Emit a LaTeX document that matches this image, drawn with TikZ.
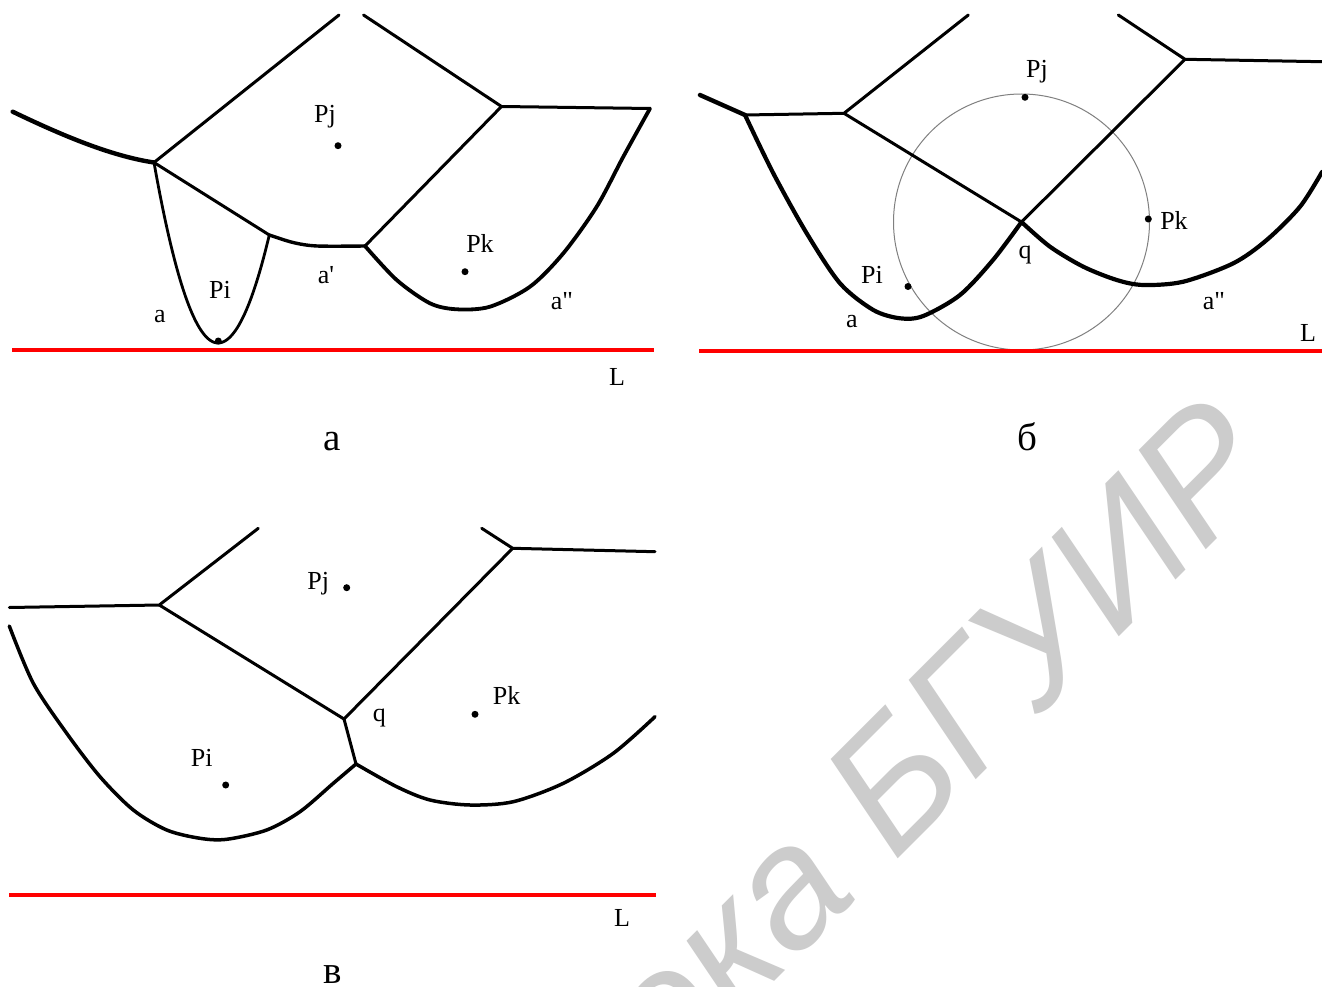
\documentclass[tikz,border=0pt]{standalone}
\usepackage{fontspec}
\newfontfamily\lab{Liberation Serif}
\newfontfamily\wm{Liberation Sans}
\begin{document}
\begin{tikzpicture}[x=1pt,y=-1pt,
  edge/.style={line width=3pt, line cap=round, line join=round},
  arc/.style={line width=3.8pt, line cap=round, line join=round},
  sweep/.style={line width=3.5pt, red},
  site/.style={circle, fill=black, inner sep=0pt, minimum size=7pt},
  lbl/.style={font=\lab\fontsize{26}{30}\selectfont, inner sep=0pt},
  panellbl/.style={font=\lab\fontsize{39}{42}\selectfont, inner sep=0pt, anchor=base},
  wmk/.style={font=\wm\itshape\fontsize{171}{171}\selectfont, text=black!20, inner sep=0pt, anchor=base west, rotate=45}]
\useasboundingbox (0,0) rectangle (1322,987);
\fill[white] (0,0) rectangle (1322,987);
\node[wmk] (wmark) at (894,862) {\llap{Библиотека }БГУИР};

% ---------------- panel a ----------------
\coordinate (aL0) at (12.7,111.7);
\coordinate (aV1) at (154,162.5);
\coordinate (aT1) at (339,15);
\coordinate (aT2) at (363.5,15);
\coordinate (aV2) at (501.5,106.5);
\coordinate (aE2) at (650,108.5);
\coordinate (aJ) at (269.3,235);
\coordinate (aV3) at (365,246);
\coordinate (aS0) at (12,350);
\coordinate (aS1) at (654,350);
\draw[arc, line width=4.4pt] (aL0) .. controls (60,134.4) and (110,155.9) .. (aV1);
\draw[edge] (aV1) -- (aT1);
\draw[edge] (aT2) -- (aV2) -- (aE2);
\draw[edge] (aV2) -- (aV3);
\draw[edge] (aV1) -- (aJ);
\draw[arc, line width=3.4pt] plot[smooth] coordinates {(aJ) (293,242.5) (317,246) (aV3)};
\draw[edge, line width=2.8pt] plot[domain=154:218,samples=40] (\x,{343-0.04407*(\x-218)^2})
   -- plot[domain=218:269.3,samples=30] (\x,{343-0.04104*(\x-218)^2});
\draw[arc] plot[smooth] coordinates {(aV3) (396.7,280) (430,303.3) (456.7,309.3) (490,306.7) (530,286.7) (563.3,253.3) (596.7,206.7) (623.3,156.7) (aE2)};
\draw[sweep] (aS0) -- (aS1);
\node[site] (aPj) at (338,145.7) {};
\node[site] (aPk) at (465,271.7) {};
\node[site] (aPi) at (218.3,341) {};
\node[lbl] (aPjl) at (325,117) {Pj};
\node[lbl] (aPkl) at (480,243) {Pk};
\node[lbl] (aPil) at (220,290) {Pi};
\node[lbl] (aal) at (160,317) {a};
\node[lbl] (aapl) at (326,275) {a'};
\node[lbl] (aappl) at (562,301) {a"};
\node[lbl] (aLl) at (617,377) {L};
\node[panellbl] (capa) at (332,450) {а};

% ---------------- panel b ----------------
\coordinate (bL0) at (700,95);
\coordinate (bV4) at (745,115);
\coordinate (bV5) at (844,113.3);
\coordinate (bT1) at (968.3,15);
\coordinate (bT2) at (1118.3,15);
\coordinate (bV6) at (1185,59.3);
\coordinate (bE6) at (1322,61.7);
\coordinate (bq) at (1021.5,222);
\coordinate (bE7) at (1322,172);
\coordinate (bS0) at (699,351);
\coordinate (bS1) at (1322,351);
\draw[gray, line width=1pt] (bq) circle[radius=128pt];
\draw[arc, line width=4.4pt] (bL0) -- (bV4);
\draw[edge] (bV4) -- (bV5) -- (bT1);
\draw[edge] (bT2) -- (bV6) -- (bE6);
\draw[edge] (bV5) -- (bq);
\draw[edge] (bV6) -- (bq);
\draw[arc, line width=4.2pt] plot[smooth] coordinates {(bq) (993,260) (960,295) (923.3,316) (900,318.3) (873.3,310) (840,283.3) (806.7,233.3) (773.3,173.3) (bV4)};
\draw[arc, line width=4.2pt] plot[smooth] coordinates {(bq) (1050,246.7) (1083.3,266.7) (1116.7,280) (1143.3,285) (1183.3,281.7) (1233.3,263.3) (1266.7,240) (1300,206.7) (bE7)};
\draw[sweep] (bS0) -- (bS1);
\node[site] (bPj) at (1025,97.3) {};
\node[site] (bPk) at (1148.3,219) {};
\node[site] (bPi) at (908,286.5) {};
\node[lbl] (bPjl) at (1037,72) {Pj};
\node[lbl] (bPkl) at (1174,220) {Pk};
\node[lbl] (bPil) at (872,275) {Pi};
\node[lbl] (bql) at (1025,255) {q};
\node[lbl] (bal) at (852,322) {a};
\node[lbl] (bappl) at (1214,301) {a"};
\node[lbl] (bLl) at (1308,333) {L};
\node[panellbl] (capb) at (1027,450) {б};

% ---------------- panel v ----------------
\coordinate (cL0) at (9.3,607.5);
\coordinate (cV7) at (159.3,605);
\coordinate (cT1) at (258.3,528.3);
\coordinate (cT2) at (481.7,528.3);
\coordinate (cV8) at (512.7,548.3);
\coordinate (cE8) at (655,551.7);
\coordinate (cq) at (344,719);
\coordinate (cV9) at (356,764);
\coordinate (cP0) at (9.3,626);
\coordinate (cE9) at (655,716.7);
\coordinate (cS0) at (9,895);
\coordinate (cS1) at (656,895);
\draw[edge] (cL0) -- (cV7) -- (cT1);
\draw[edge] (cT2) -- (cV8) -- (cE8);
\draw[edge] (cV7) -- (cq);
\draw[edge] (cV8) -- (cq);
\draw[edge] (cq) -- (cV9);
\draw[arc, line width=3.5pt] plot[smooth] coordinates {(cP0) (33.3,683.3) (66.7,733.3) (100,776.7) (133.3,810) (166.7,830) (200,838.3) (226.7,839.3) (266.7,830) (300,811.7) (333.3,783.3) (cV9)};
\draw[arc, line width=3.5pt] plot[smooth] coordinates {(cV9) (396.7,786.7) (430,800) (470,805) (513.3,801.7) (563.3,783.3) (613.3,753.3) (cE9)};
\draw[sweep] (cS0) -- (cS1);
\node[site] (cPj) at (346.7,587.7) {};
\node[site] (cPk) at (475,714.3) {};
\node[site] (cPi) at (225.7,785) {};
\node[lbl] (cPjl) at (318.3,583.3) {Pj};
\node[lbl] (cPkl) at (506.7,695) {Pk};
\node[lbl] (cPil) at (201.7,758.3) {Pi};
\node[lbl] (cql) at (379.3,718.3) {q};
\node[lbl] (cLl) at (622,918) {L};
\node[panellbl] (capc) at (333,983) {в};
\end{tikzpicture}
\end{document}
